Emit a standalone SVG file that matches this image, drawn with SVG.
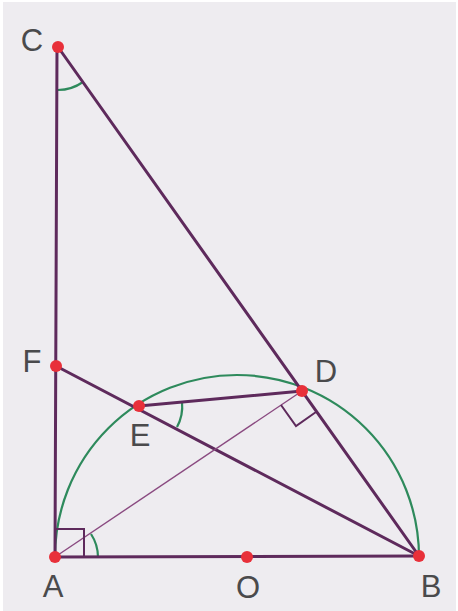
<svg xmlns="http://www.w3.org/2000/svg" width="458" height="611" viewBox="0 0 458 611">
<style>
.thick{stroke:#5e2a5c;stroke-width:3;fill:none;stroke-linecap:round}
.thin{stroke:#8a4a80;stroke-width:1.4;fill:none}
.green{stroke:#2e8a5c;stroke-width:2.2;fill:none}
.mark{stroke:#5e2a5c;stroke-width:2;fill:none}
.pt{fill:#e8303a}
.lbl{font-family:"Liberation Sans",Arial,sans-serif;font-size:31px;fill:#4a4a4c;text-anchor:middle}
</style>
<rect x="0" y="0" width="458" height="611" fill="#ffffff"/>
<rect x="3" y="2" width="453" height="609" fill="#eeecf0"/>
<g id="arcs">
<path class="green" d="M55,557 A182,182 0 0 1 419,557"/>
<path class="green" d="M58,90 A44,44 0 0 0 83,82"/>
<path class="green" d="M182,402 A43,43 0 0 1 177,427"/>
<path class="green" d="M98,557 A43,43 0 0 0 91,534"/>
</g>
<g id="connectors">
<line class="thick" x1="57" y1="47" x2="55" y2="557"/>
<line class="thick" x1="58" y1="47" x2="419" y2="556"/>
<line class="thick" x1="55" y1="557" x2="419" y2="556"/>
<line class="thick" x1="56" y1="366" x2="419" y2="556"/>
<line class="thick" x1="139" y1="406" x2="302" y2="391"/>
<line class="thin" x1="55" y1="557" x2="302" y2="391"/>
<polyline class="mark" points="55,529 84,529 84,557"/>
<polyline class="mark" points="281,405 296,426 316,412"/>
</g>
<g id="C"><circle class="pt" cx="58" cy="47" r="6"/><text class="lbl" x="32" y="51">C</text></g>
<g id="F"><circle class="pt" cx="56" cy="366" r="6"/><text class="lbl" x="32" y="372">F</text></g>
<g id="E"><circle class="pt" cx="139" cy="406" r="6"/><text class="lbl" x="140" y="446">E</text></g>
<g id="D"><circle class="pt" cx="302" cy="391" r="6"/><text class="lbl" x="326" y="382">D</text></g>
<g id="A"><circle class="pt" cx="55" cy="557" r="6"/><text class="lbl" x="53" y="597">A</text></g>
<g id="O"><circle class="pt" cx="247" cy="557" r="6"/><text class="lbl" x="248" y="598">O</text></g>
<g id="B"><circle class="pt" cx="419" cy="556" r="6"/><text class="lbl" x="431" y="597">B</text></g>
</svg>
